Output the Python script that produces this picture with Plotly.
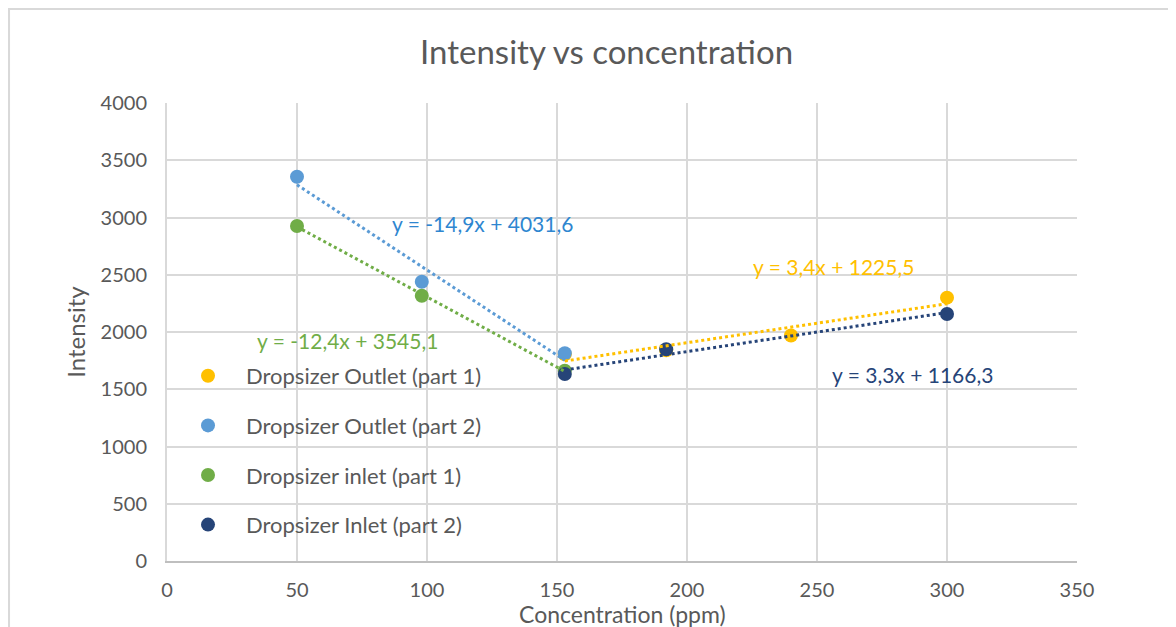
import numpy as np
import plotly.graph_objects as go

# ---- data ----
series_names = ["Dropsizer Outlet (part 1)", "Dropsizer Outlet (part 2)",
                "Dropsizer inlet (part 1)", "Dropsizer Inlet (part 2)"]
outlet1_x = [153, 192, 240, 300]
outlet1_y = [1805, 1840, 1970, 2300]
outlet2_x = [50, 98, 153]
outlet2_y = [3356, 2439, 1815]
inlet1_x = [50, 98, 153]
inlet1_y = [2926, 2317, 1662]
inlet2_x = [153, 192, 300]
inlet2_y = [1633, 1850, 2157]
trend_labels = ["y = 3,4x + 1225,5", "y = -14,9x + 4031,6",
                "y = -12,4x + 3545,1", "y = 3,3x + 1166,3"]
x_ticks = [0, 50, 100, 150, 200, 250, 300, 350]
y_ticks = [0, 500, 1000, 1500, 2000, 2500, 3000, 3500, 4000]

colors = ["#FFC000", "#5B9BD5", "#70AD47", "#264478"]
label_colors = ["#FFC000", "#2E86D0", "#70AD47", "#264478"]
label_pos = [(256.5, 2576), (121.2, 2952), (69.6, 1930), (286.9, 1633)]

xs = [outlet1_x, outlet2_x, inlet1_x, inlet2_x]
ys = [outlet1_y, outlet2_y, inlet1_y, inlet2_y]

FONT = "Lato"
GREY = "#595959"

fig = go.Figure()
for i in range(4):
    fig.add_trace(go.Scatter(
        x=xs[i], y=ys[i], mode="markers", name=series_names[i],
        marker=dict(size=14, color=colors[i]),
        legendgroup=f"g{i}", cliponaxis=False))
for i in range(4):
    xa = np.array(xs[i], dtype=float)
    ya = np.array(ys[i], dtype=float)
    m, b = np.polyfit(xa, ya, 1)
    xl = np.array([xa.min(), xa.max()])
    fig.add_trace(go.Scatter(
        x=xl, y=m * xl + b, mode="lines", showlegend=False,
        line=dict(color=colors[i], width=3, dash="dot"), hoverinfo="skip"))

for i in range(4):
    fig.add_annotation(x=label_pos[i][0], y=label_pos[i][1], text=trend_labels[i],
                       showarrow=False, xref="x", yref="y",
                       font=dict(family=FONT, size=21, color=label_colors[i]))

# x-axis title
fig.add_annotation(x=0.501, y=-0.1157, xref="paper", yref="paper",
                   text="Concentration (ppm)", showarrow=False,
                   xanchor="center", yanchor="middle",
                   font=dict(family=FONT, size=23, color=GREY))

fig.add_shape(type="rect", xref="paper", yref="paper",
              x0=-0.1736, x1=1.3, y0=-0.3, y1=1.2052,
              line=dict(color="#D9D9D9", width=2), layer="below")

fig.update_layout(
    width=1176, height=627,
    margin=dict(l=159, r=107, t=95, b=74),
    paper_bgcolor="white", plot_bgcolor="white",
    font=dict(family=FONT, color=GREY, size=20),
    title=dict(text="Intensity vs concentration", x=0.509, xanchor="center",
               y=1 - 44 / 627, yanchor="middle",
               font=dict(family=FONT, size=33, color=GREY)),
    showlegend=True,
    legend=dict(x=0.0033, y=0.4498, xanchor="left", yanchor="top",
                bgcolor="rgba(0,0,0,0)", tracegroupgap=18,
                font=dict(family=FONT, size=22, color=GREY), itemwidth=66),
    xaxis=dict(range=[0, 350], tickvals=x_ticks, showgrid=True,
               gridcolor="#D9D9D9", gridwidth=2, zeroline=False,
               showline=True, linecolor="#BFBFBF", linewidth=2, mirror=False,
               ticks="outside", ticklen=10, tickcolor="rgba(0,0,0,0)",
               tickfont=dict(size=20)),
    yaxis=dict(range=[0, 4000], tickvals=y_ticks, showgrid=True,
               gridcolor="#D9D9D9", gridwidth=2, zeroline=False,
               showline=True, linecolor="#D9D9D9", linewidth=2,
               ticks="outside", ticklen=14, tickcolor="rgba(0,0,0,0)",
               tickfont=dict(size=20),
               title=dict(text="Intensity", standoff=8,
                          font=dict(family=FONT, size=24, color=GREY))),
)
fig.write_html("out.html")
